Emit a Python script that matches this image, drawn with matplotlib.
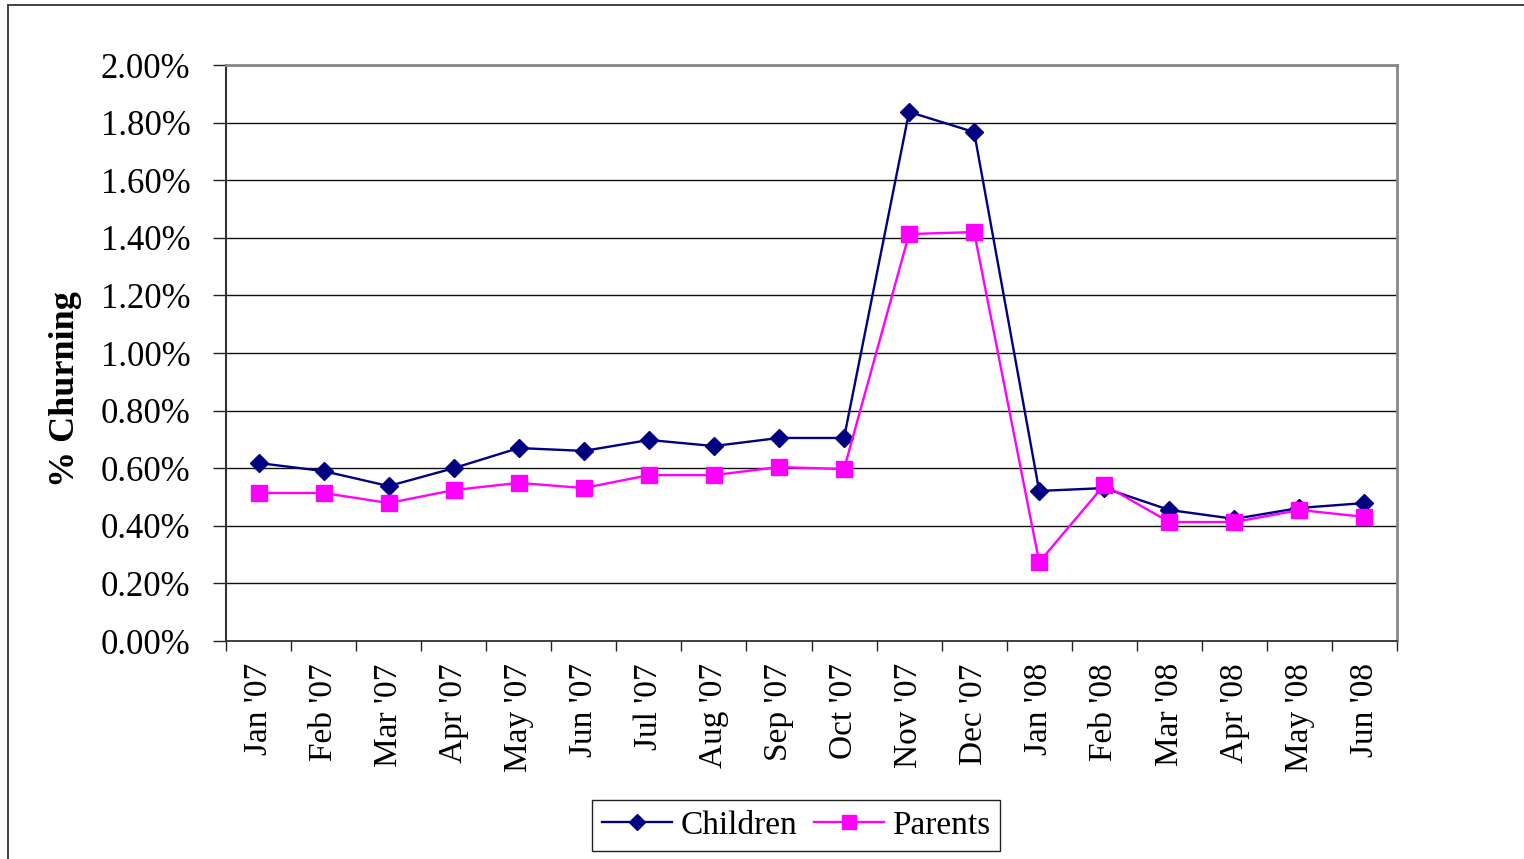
import matplotlib
matplotlib.use("Agg")
import matplotlib.pyplot as plt
from matplotlib.patches import Rectangle
from matplotlib.ticker import FuncFormatter, FixedLocator

months = ["Jan '07", "Feb '07", "Mar '07", "Apr '07", "May '07", "Jun '07",
          "Jul '07", "Aug '07", "Sep '07", "Oct '07", "Nov '07", "Dec '07",
          "Jan '08", "Feb '08", "Mar '08", "Apr '08", "May '08", "Jun '08"]

children = [0.618, 0.590, 0.538, 0.600, 0.670, 0.660, 0.698, 0.677, 0.705,
            0.705, 1.837, 1.767, 0.521, 0.531, 0.455, 0.424, 0.462, 0.479]

parents = [0.514, 0.514, 0.479, 0.524, 0.549, 0.531, 0.576, 0.576, 0.604,
           0.597, 1.413, 1.420, 0.274, 0.542, 0.413, 0.413, 0.455, 0.431]

y_ticks = [0.0, 0.2, 0.4, 0.6, 0.8, 1.0, 1.2, 1.4, 1.6, 1.8, 2.0]

plt.rcParams["font.family"] = ["Liberation Serif", "DejaVu Serif"]

W, H = 1524, 859
fig = plt.figure(figsize=(W / 100, H / 100), dpi=100)
fig.patch.set_facecolor("white")

# outer chart frame
fig.patches.append(Rectangle((8 / W, -0.05), 1.2, 1 - 5 / H + 0.05,
                             transform=fig.transFigure, fill=False,
                             edgecolor="#333333", linewidth=1.3))

ax = fig.add_axes([226 / W, 1 - 641 / H, (1397 - 226) / W, (641 - 65) / H])

x = list(range(len(months)))
ax.plot(x, children, color="#000080", linewidth=1.7, marker="D",
        markersize=8.8, markerfacecolor="#000080", markeredgecolor="#000080",
        label="Children", zorder=3)
ax.plot(x, parents, color="#FF00FF", linewidth=1.7, marker="s",
        markersize=11.5, markerfacecolor="#FF00FF", markeredgecolor="#FF00FF",
        label="Parents", zorder=4)

ax.set_xlim(-0.5, len(months) - 0.5)
ax.set_ylim(0, 2.0)

ax.set_yticks(y_ticks)
ax.yaxis.set_major_formatter(FuncFormatter(lambda v, p: f"{v:.2f}%"))
ax.tick_params(axis="y", direction="out", length=9.5, width=1.0,
               color="#222222", pad=16, labelsize=25)
ax.grid(axis="y", color="#111111", linewidth=1.0)
ax.set_axisbelow(True)

ax.set_xticks(x)
ax.set_xticklabels(months, rotation=90)
ax.tick_params(axis="x", which="major", length=0, pad=16, labelsize=24)
ax.xaxis.set_minor_locator(FixedLocator([i - 0.5 for i in range(len(months) + 1)]))
ax.tick_params(axis="x", which="minor", direction="out", length=7.5,
               width=1.0, color="#222222")

for side in ("top", "right"):
    ax.spines[side].set_color("#888888")
    ax.spines[side].set_linewidth(2.0)
ax.spines["left"].set_color("#333333")
ax.spines["left"].set_linewidth(1.5)
ax.spines["bottom"].set_color("#333333")
ax.spines["bottom"].set_linewidth(1.3)

ax.set_ylabel("% Churning", fontsize=26, fontweight="bold")
ax.yaxis.set_label_coords((82 - 226) / (1397 - 226), (641 - 389) / (641 - 65))

leg = fig.legend(loc="center", bbox_to_anchor=(796 / W, 1 - 825.5 / H),
                 ncol=2, fontsize=24, frameon=True, fancybox=False,
                 edgecolor="#222222", framealpha=1, handlelength=2.1,
                 handletextpad=0.25, columnspacing=0.5, borderpad=0.3,
                 borderaxespad=0)
leg.get_frame().set_linewidth(1.0)
for h in leg.legend_handles:
    h.set_markersize(8.5 if h.get_marker() == "D" else 10)

fig.savefig("out.png", dpi=100, facecolor="white")
